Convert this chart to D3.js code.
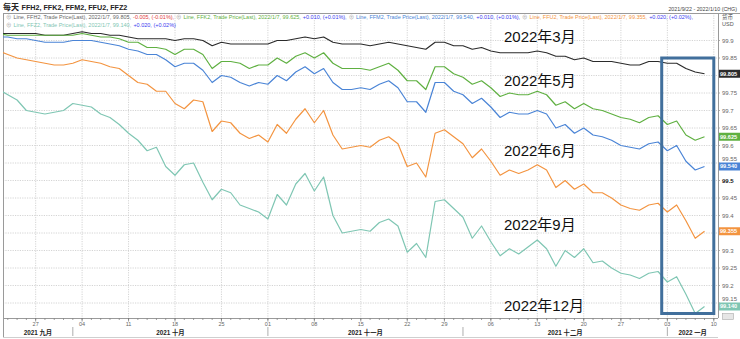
<!DOCTYPE html>
<html><head><meta charset="utf-8">
<script src="https://cdn.jsdelivr.net/npm/d3@7"></script>
<style>
body{margin:0;background:#fff}
svg{display:block}
text{font-family:"Liberation Sans",Arial,"Noto Sans CJK SC",sans-serif}
</style></head>
<body><svg id="c" width="740" height="339"></svg>
<script>
// ---------------- DATA ----------------
const dates = [
"2021-09-21","2021-09-22","2021-09-23","2021-09-24","2021-09-27","2021-09-28","2021-09-29","2021-09-30",
"2021-10-01","2021-10-04","2021-10-05","2021-10-06","2021-10-07","2021-10-08","2021-10-11","2021-10-12","2021-10-13","2021-10-14","2021-10-15","2021-10-18","2021-10-19","2021-10-20","2021-10-21","2021-10-22","2021-10-25","2021-10-26","2021-10-27","2021-10-28","2021-10-29",
"2021-11-01","2021-11-02","2021-11-03","2021-11-04","2021-11-05","2021-11-08","2021-11-09","2021-11-10","2021-11-11","2021-11-12","2021-11-15","2021-11-16","2021-11-17","2021-11-18","2021-11-19","2021-11-22","2021-11-23","2021-11-24","2021-11-26","2021-11-29","2021-11-30",
"2021-12-01","2021-12-02","2021-12-03","2021-12-06","2021-12-07","2021-12-08","2021-12-09","2021-12-10","2021-12-13","2021-12-14","2021-12-15","2021-12-16","2021-12-17","2021-12-20","2021-12-21","2021-12-22","2021-12-23","2021-12-27","2021-12-28","2021-12-29","2021-12-30","2021-12-31",
"2022-01-03","2022-01-04","2022-01-05","2022-01-06","2022-01-07"];
const axisEndDate = "2022-01-10";

const ffh2 = [99.92,99.92,99.92,99.92,99.92,99.915,99.915,99.915,
 99.92,99.925,99.92,99.92,99.915,99.915,99.91,99.905,99.905,99.905,99.905,99.90,99.905,99.905,99.90,99.885,99.895,99.89,99.89,99.89,99.89,
 99.89,99.90,99.90,99.905,99.91,99.905,99.91,99.895,99.89,99.89,99.89,99.885,99.89,99.895,99.89,99.885,99.88,99.875,99.895,99.895,99.885,
 99.885,99.875,99.88,99.87,99.865,99.865,99.865,99.865,99.87,99.865,99.855,99.855,99.845,99.85,99.84,99.84,99.84,99.835,99.83,99.83,99.84,99.84,
 99.835,99.835,99.82,99.81,99.805];
const ffk2 = [99.92,99.915,99.915,99.915,99.915,99.915,99.915,99.915,
 99.915,99.92,99.915,99.91,99.91,99.905,99.895,99.895,99.88,99.88,99.875,99.86,99.875,99.875,99.86,99.82,99.84,99.84,99.835,99.82,99.83,
 99.83,99.85,99.835,99.855,99.865,99.85,99.865,99.835,99.82,99.82,99.82,99.815,99.825,99.835,99.815,99.785,99.785,99.76,99.825,99.825,99.805,
 99.795,99.775,99.785,99.765,99.74,99.75,99.745,99.745,99.755,99.745,99.715,99.725,99.705,99.72,99.705,99.70,99.69,99.68,99.675,99.665,99.68,99.685,
 99.66,99.67,99.63,99.615,99.625];
const ffm2 = [99.91,99.91,99.905,99.905,99.90,99.895,99.895,99.895,
 99.90,99.90,99.90,99.895,99.89,99.885,99.875,99.87,99.86,99.86,99.845,99.825,99.835,99.835,99.815,99.78,99.80,99.795,99.78,99.77,99.78,
 99.775,99.80,99.785,99.81,99.825,99.805,99.82,99.78,99.76,99.76,99.765,99.76,99.775,99.785,99.765,99.725,99.725,99.695,99.78,99.78,99.755,
 99.745,99.72,99.735,99.71,99.68,99.695,99.69,99.69,99.70,99.69,99.65,99.66,99.635,99.65,99.63,99.625,99.615,99.60,99.595,99.59,99.605,99.61,
 99.585,99.60,99.555,99.53,99.54];
const ffu2 = [99.87,99.86,99.85,99.845,99.84,99.835,99.83,99.83,
 99.835,99.845,99.84,99.835,99.825,99.82,99.80,99.78,99.775,99.755,99.755,99.72,99.705,99.73,99.725,99.64,99.67,99.665,99.635,99.62,99.63,
 99.61,99.66,99.635,99.675,99.705,99.665,99.70,99.63,99.59,99.595,99.60,99.595,99.615,99.625,99.605,99.54,99.55,99.51,99.635,99.645,99.625,
 99.605,99.565,99.59,99.555,99.515,99.53,99.52,99.53,99.545,99.53,99.48,99.50,99.475,99.49,99.465,99.465,99.45,99.43,99.42,99.415,99.43,99.435,
 99.41,99.43,99.385,99.335,99.355];
const ffz2 = [99.76,99.745,99.73,99.70,99.695,99.69,99.695,99.70,
 99.72,99.715,99.71,99.69,99.68,99.66,99.635,99.615,99.585,99.595,99.54,99.515,99.545,99.55,99.495,99.445,99.475,99.465,99.43,99.42,99.41,
 99.39,99.46,99.43,99.49,99.52,99.47,99.51,99.40,99.35,99.355,99.36,99.355,99.38,99.39,99.37,99.295,99.32,99.28,99.44,99.445,99.42,
 99.395,99.335,99.37,99.325,99.285,99.305,99.29,99.31,99.33,99.305,99.255,99.30,99.28,99.305,99.265,99.27,99.25,99.235,99.23,99.22,99.235,99.24,
 99.21,99.225,99.175,99.12,99.14];

const seriesNames = ["FFH2","FFK2","FFM2","FFU2","FFZ2"];
const seriesValues = [ffh2, ffk2, ffm2, ffu2, ffz2];
const seriesColors = ["#2b2b2b","#5fb041","#4a84d6","#f39440","#7fc6b3"];
const lastLabels = ["99.805","99.625","99.540","99.355","99.140"];
const changeLabels = ["-0.005, (-0.01%),","+0.010, (+0.01%),","+0.010, (+0.01%),","+0.020, (+0.02%),","+0.020, (+0.02%)"];
const annotations = ["2022年3月","2022年5月","2022年6月","2022年9月","2022年12月"];

const yTicks = [99.15,99.2,99.25,99.3,99.35,99.4,99.45,99.5,99.55,99.6,99.65,99.7,99.75,99.8,99.85,99.9];
const weekTickDates = ["2021-09-27","2021-10-04","2021-10-11","2021-10-18","2021-10-25","2021-11-01","2021-11-08","2021-11-15","2021-11-22","2021-11-29","2021-12-06","2021-12-13","2021-12-20","2021-12-27","2022-01-03","2022-01-10"];
const weekTickLabels = ["27","04","11","18","25","01","08","15","22","29","06","13","20","27","03","10"];
const monthKeys = ["2021-09","2021-10","2021-11","2021-12","2022-01"];
const monthLabels = ["2021 九月","2021 十月","2021 十一月","2021 十二月","2022 一月"];

// ---------------- LAYOUT ----------------
const svg = d3.select("#c");
const P = {l:3, t:13, r:718, b:318};
const axisDates = dates.concat([axisEndDate]);
const x = d3.scalePoint().domain(axisDates).range([-1.5, 713.8]);
const y = d3.scaleLinear().domain([99.15, 99.9]).range([303, 40.5]);

svg.append("rect").attr("width",740).attr("height",339).attr("fill","#fff");

svg.append("clipPath").attr("id","pc").append("rect")
  .attr("x",P.l).attr("y",P.t).attr("width",P.r-P.l).attr("height",P.b-P.t);

// gridlines
const grid = svg.append("g").attr("stroke","#c9c9c9").attr("stroke-width",0.8).attr("stroke-dasharray","1.2,1.2");
grid.selectAll("line.h").data(yTicks).join("line")
  .attr("x1",P.l).attr("x2",P.r).attr("y1",d=>y(d)).attr("y2",d=>y(d));
grid.selectAll("line.v").data(weekTickDates).join("line")
  .attr("x1",d=>x(d)).attr("x2",d=>x(d)).attr("y1",P.t).attr("y2",P.b);

// frame
const frame = svg.append("g").attr("stroke","#9a9a9a").attr("stroke-width",1).attr("fill","none");
frame.append("line").attr("x1",P.l).attr("x2",740).attr("y1",P.t+0.5).attr("y2",P.t+0.5);
frame.append("line").attr("x1",P.l+0.5).attr("x2",P.l+0.5).attr("y1",P.t).attr("y2",337);
frame.append("line").attr("x1",P.r+0.5).attr("x2",P.r+0.5).attr("y1",P.t).attr("y2",P.b);
frame.append("line").attr("x1",P.l).attr("x2",P.r).attr("y1",P.b+0.5).attr("y2",P.b+0.5);
frame.append("line").attr("x1",P.l).attr("x2",P.r).attr("y1",337.5).attr("y2",337.5).attr("stroke","#cfcfcf");

// lines
const lineGen = v => d3.line().x((d,i)=>x(dates[i])).y(d=>y(d))(v);
const lg = svg.append("g").attr("clip-path","url(#pc)");
seriesValues.forEach((v,k)=>{
  lg.append("path").attr("d",lineGen(v)).attr("fill","none")
    .attr("stroke",seriesColors[k]).attr("stroke-width",1.2).attr("stroke-linejoin","round");
});

// highlight rectangle around last week
const bx0 = (x("2021-12-31")+x("2022-01-03"))/2 - 1;
const bx1 = x(axisEndDate);
svg.append("rect").attr("x",bx0).attr("y",y(99.85)).attr("width",bx1-bx0).attr("height",y(99.12)-y(99.85))
  .attr("fill","none").attr("stroke","#416f9c").attr("stroke-width",3);

// annotations
const annY = [42, 86, 156, 230, 311];
svg.append("g").selectAll("text").data(annotations).join("text")
  .attr("x",504).attr("y",(d,i)=>annY[i]).attr("font-size",15).attr("fill","#111").text(d=>d);

// x axis: daily minor ticks
const ax = svg.append("g").attr("stroke","#888").attr("stroke-width",0.8);
ax.selectAll("line").data(axisDates).join("line")
  .attr("x1",d=>x(d)).attr("x2",d=>x(d)).attr("y1",P.b).attr("y2",P.b+2);
svg.append("g").attr("stroke","#777").attr("stroke-width",0.8).selectAll("line").data(weekTickDates).join("line")
  .attr("x1",d=>x(d)).attr("x2",d=>x(d)).attr("y1",P.b).attr("y2",P.b+3.5);
svg.append("g").selectAll("text").data(weekTickDates).join("text")
  .attr("x",d=>x(d)).attr("y",326).attr("text-anchor","middle").attr("font-size",5.5).attr("fill","#666")
  .text((d,i)=>weekTickLabels[i]);

// month band
const monthStartX = monthKeys.map((m,i)=>{
  if(i===0) return P.l;
  const first = dates.find(d=>d.startsWith(m));
  return x(first);
});
const monthEndX = monthStartX.slice(1).concat([P.r]);
svg.append("g").attr("stroke","#999").attr("stroke-width",0.8).selectAll("line").data(monthStartX.slice(1)).join("line")
  .attr("x1",d=>d).attr("x2",d=>d).attr("y1",327).attr("y2",336);
svg.append("g").selectAll("text").data(monthLabels).join("text")
  .attr("x",(d,i)=>(monthStartX[i]+monthEndX[i])/2).attr("y",334.5).attr("text-anchor","middle")
  .attr("font-size",6.3).attr("font-weight","bold").attr("fill","#222").text(d=>d);

// right axis (labels fully covered by a last-value box are not drawn)
const lastVals = seriesValues.map(v=>v[v.length-1]);
const fmt = d3.format("~g");
const visibleTicks = yTicks.filter(t=>lastVals.every(v=>Math.abs(y(t)-y(v))>2.6));
svg.append("g").selectAll("text").data(visibleTicks).join("text")
  .attr("x",722).attr("y",d=>{
      const near = lastVals.find(v=>Math.abs(y(d)-y(v))<8);
      return near!==undefined && y(near)>y(d) ? y(near)-7.5 : y(d);
  }).attr("dy","0.35em").attr("font-size",6)
  .attr("fill",d=>d===99.5?"#111":"#666").attr("font-weight",d=>d===99.5?"bold":"normal")
  .text(d=>fmt(d));
svg.append("g").attr("stroke","#999").attr("stroke-width",0.8).selectAll("line").data(yTicks).join("line")
  .attr("x1",P.r).attr("x2",P.r+2).attr("y1",d=>y(d)).attr("y2",d=>y(d));

// last value boxes
const bg = svg.append("g");
lastVals.forEach((v,k)=>{
  bg.append("rect").attr("x",P.r+1).attr("y",y(v)-4).attr("width",740-P.r-1).attr("height",8).attr("fill",seriesColors[k]);
  bg.append("text").attr("x",P.r+2).attr("y",y(v)).attr("dy","0.35em").attr("font-size",5.6)
    .attr("font-weight","bold").attr("fill","#fff").text(lastLabels[k]);
});

// currency label
svg.append("text").attr("x",722).attr("y",19).attr("font-size",5.5).attr("fill","#555").text("货币");
svg.append("text").attr("x",722).attr("y",26).attr("font-size",5.5).attr("fill","#555").text("USD");

// small icon bottom right
svg.append("rect").attr("x",722.5).attr("y",313.5).attr("width",11).attr("height",6).attr("fill","#e6e6e6").attr("stroke","#aaa").attr("stroke-width",0.6);

// title: two separate texts
const t1 = svg.append("text").attr("x",3).attr("y",10).attr("font-size",8).attr("font-weight","bold").attr("fill","#222").text("每天");
const t1w = t1.node().getComputedTextLength();
svg.append("text").attr("x",3 + t1w + 2.5).attr("y",10).attr("font-size",7.2).attr("font-weight","bold").attr("fill","#222")
  .text("FFH2, FFK2, FFM2, FFU2, FFZ2");

// date range
svg.append("text").attr("x",737).attr("y",10.5).attr("text-anchor","end").attr("font-size",5.3).attr("fill","#444")
  .text("2021/9/22 - 2022/1/10 (CHG)");

// legend: each segment its own text, font scaled so the line spans the reference width
const changeColors = ["#e23c3c","#3b3bf0","#3b3bf0","#3b3bf0","#3b3bf0"];
function legendLine(yy, idxs, width){
  const g = svg.append("g");
  const segs = [];
  idxs.forEach(k=>{
    segs.push({t:"⊕", c:"#999"});
    segs.push({t:`Line, ${seriesNames[k]}, Trade Price(Last), 2022/1/7, ${lastLabels[k]},`, c:k===0?"#666":seriesColors[k]});
    segs.push({t:changeLabels[k], c:changeColors[k]});
  });
  const base = 6, gap = 0.35;
  const nodes = segs.map(s=>g.append("text").attr("y",yy).attr("font-size",base).attr("fill",s.c).text(s.t));
  const widths = nodes.map(n=>n.node().getComputedTextLength());
  const total = d3.sum(widths) + gap*base*(segs.length-1);
  const s = width/total;
  let cx = 6;
  nodes.forEach((n,i)=>{
    n.attr("x",cx).attr("font-size",base*s);
    cx += widths[i]*s + gap*base*s;
  });
}
legendLine(19, [0,1,2,3], 687);
legendLine(26.5, [4], 170);
</script></body></html>
